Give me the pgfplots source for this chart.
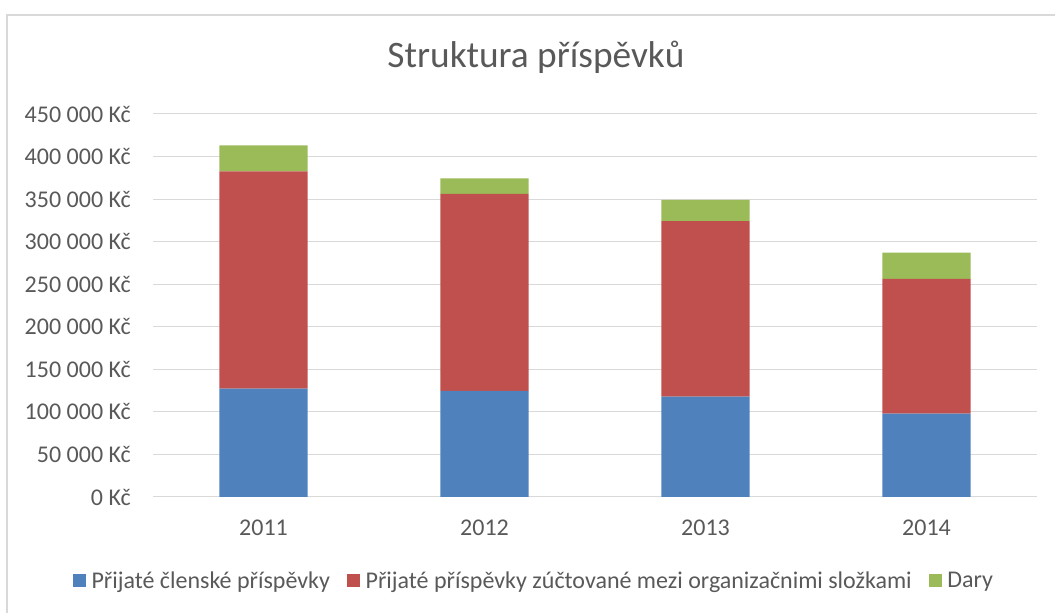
\documentclass[border=0pt]{standalone}
\usepackage{fontspec}
\setmainfont{Carlito}
\usepackage{pgfplots}
\pgfplotsset{compat=1.18}
\definecolor{serBlue}{HTML}{4F81BD}
\definecolor{serRed}{HTML}{C0504D}
\definecolor{serGreen}{HTML}{9BBB59}
\definecolor{txtGray}{HTML}{595959}
\definecolor{gridGray}{HTML}{D9D9D9}

\begin{document}
\begin{tikzpicture}[x=0.75pt,y=0.75pt]
% page size = 1055 x 613 px
\path[use as bounding box] (0,0) rectangle (1055,613);
\draw[gridGray,line width=1pt] (7,-10) -- (7,598) -- (1070,598);

\begin{axis}[
  at={(114.75pt,87pt)}, anchor=south west,
  scale only axis,
  width=663pt, height=287.25pt,
  ybar stacked,
  bar width=0.4,
  xmin=-0.5, xmax=3.5,
  ymin=0, ymax=450000,
  xtick=data,
  xticklabels={2011,2012,2013,2014},
  ytick={0,50000,100000,150000,200000,250000,300000,350000,400000,450000},
  yticklabels={0 Kč,50 000 Kč,100 000 Kč,150 000 Kč,200 000 Kč,250 000 Kč,300 000 Kč,350 000 Kč,400 000 Kč,450 000 Kč},
  scaled y ticks=false,
  major tick length=0pt,
  ymajorgrids,
  grid style={gridGray,line width=0.75pt},
  axis lines*=left,
  x axis line style={gridGray,line width=0.75pt,-},
  y axis line style={draw=none},
  ticklabel style={font=\fontsize{18}{22}\selectfont, text=txtGray},
  yticklabel style={anchor=east, inner sep=0pt, xshift=-16.5pt},
  xticklabel style={anchor=center, inner sep=0pt, yshift=-23pt},
  legend columns=3,
  legend style={at={(0.4300,-0.2193)}, anchor=center, draw=none, fill=none,
    font=\fontsize{18}{22}\selectfont, text=txtGray,
    /tikz/every even column/.append style={column sep=13pt},
    /tikz/every odd column/.append style={column sep=4pt},
    nodes={inner xsep=0pt, inner ysep=0pt}},
  legend image code/.code={\fill[#1] (0pt,-4.875pt) rectangle (9.75pt,4.875pt);},
]
\addplot[fill=serBlue, draw=none] coordinates {(0,127300) (1,124600) (2,118000) (3,98000)};
\addlegendentry{Přijaté členské příspěvky}
\addplot[fill=serRed, draw=none] coordinates {(0,255200) (1,231600) (2,206000) (3,158200)};
\addlegendentry{Přijaté příspěvky zúčtované mezi organizačnimi složkami}
\addplot[fill=serGreen, draw=none] coordinates {(0,30500) (1,18100) (2,25000) (3,31000)};
\addlegendentry{Dary}
\end{axis}

\node[anchor=base, text=txtGray, font=\fontsize{28}{34}\selectfont, inner sep=0pt]
  at (536,545.7) {Struktura příspěvků};
\end{tikzpicture}
\end{document}
